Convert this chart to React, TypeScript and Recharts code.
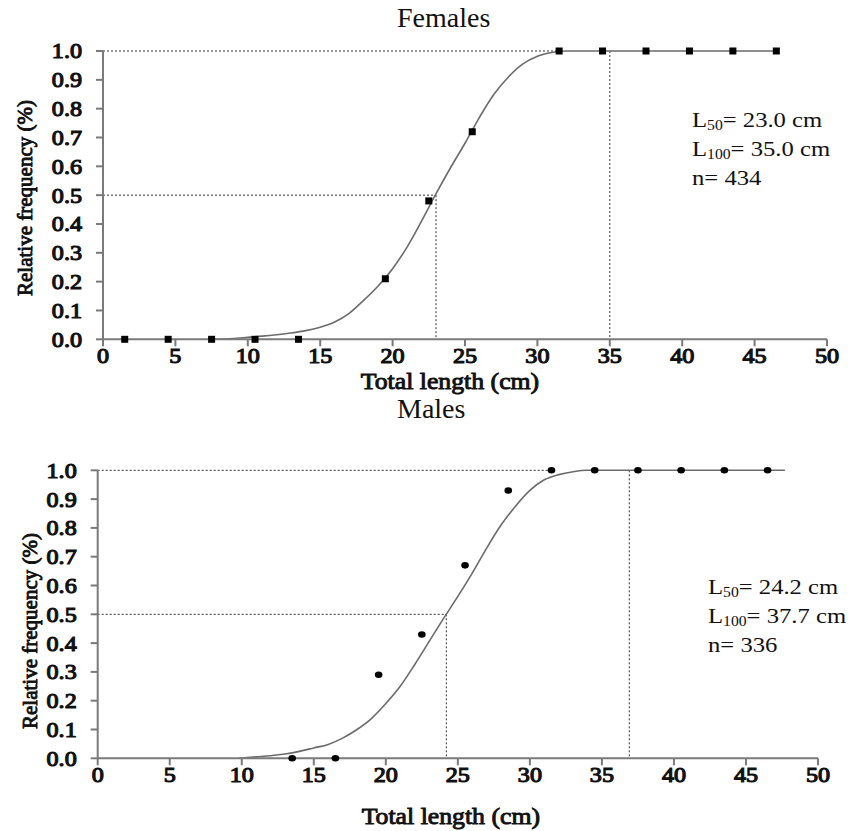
import React from 'react';
import {
  ComposedChart,
  Line,
  Scatter,
  XAxis,
  YAxis,
  ReferenceLine,
  Label,
} from 'recharts';

const X_TICKS = [0, 5, 10, 15, 20, 25, 30, 35, 40, 45, 50];
const Y_TICKS = [0, 0.1, 0.2, 0.3, 0.4, 0.5, 0.6, 0.7, 0.8, 0.9, 1.0];

// observed proportions mature per 3 cm length class
const femaleLength = [1.5, 4.5, 7.5, 10.5, 13.5, 19.5, 22.5, 25.5, 31.5, 34.5, 37.5, 40.5, 43.5, 46.5];
const femaleFreq = [0, 0, 0, 0, 0, 0.21, 0.48, 0.72, 1, 1, 1, 1, 1, 1];
const maleLength = [13.5, 16.5, 19.5, 22.5, 25.5, 28.5, 31.5, 34.5, 37.5, 40.5, 43.5, 46.5];
const maleFreq = [0, 0, 0.29, 0.43, 0.67, 0.93, 1, 1, 1, 1, 1, 1];

// fitted curves
const femaleCurveX = [7.5, 9, 10, 11, 12, 13, 14, 15, 16, 17, 18, 19, 20, 21, 22, 23, 24, 25, 26, 27, 28, 29, 30, 31, 32, 46.5];
const femaleCurveY = [0, 0.003, 0.007, 0.011, 0.016, 0.022, 0.03, 0.042, 0.06, 0.09, 0.135, 0.185, 0.245, 0.32, 0.41, 0.505, 0.595, 0.68, 0.77, 0.85, 0.91, 0.955, 0.982, 0.995, 1, 1];
const maleCurveX = [9.8, 11, 12, 13, 14, 15, 16, 17, 18, 19, 20, 21, 22, 23, 24, 25, 26, 27, 28, 29, 30, 31, 32, 33, 34, 47.7];
const maleCurveY = [0, 0.005, 0.009, 0.015, 0.024, 0.036, 0.048, 0.07, 0.1, 0.138, 0.19, 0.25, 0.325, 0.405, 0.485, 0.562, 0.643, 0.73, 0.81, 0.875, 0.93, 0.967, 0.985, 0.995, 1, 1];

// L50 / L100 guide positions (x where the dotted lines are drawn)
const femaleL50 = 23.0;
const femaleL100 = 35.0;
const maleL50 = 24.2;
const maleL100 = 36.9;
const fullUntil = 31.5;

const SERIF = "'Liberation Serif', 'Times New Roman', serif";
const AXIS_COLOR = '#7a7a7a';
const DOT_COLOR = '#333';

const zip = (xs: number[], ys: number[]) => xs.map((x, i) => ({ x, y: ys[i] }));

// bold serif is faked with a thin stroke (no bold serif face guaranteed)
const boldSvg = { fontFamily: SERIF, fontWeight: 'normal' as const, fill: '#111', stroke: '#111', strokeWidth: 1.1 };

const XTick = (props: any) => {
  const { x, y, payload } = props;
  return (
    <text transform={`translate(${x},${y}) scale(1.15,1)`} textAnchor="middle" dy="0.71em" fontSize={21} {...boldSvg}>
      {payload.value}
    </text>
  );
};

const YTick = (props: any) => {
  const { x, y, payload } = props;
  return (
    <text transform={`translate(${x},${y}) scale(1.15,1)`} textAnchor="end" dy="0.355em" fontSize={21} {...boldSvg}>
      {Number(payload.value).toFixed(1)}
    </text>
  );
};

const XTitle = (props: any) => {
  const { viewBox, shift } = props;
  const x = viewBox.x + viewBox.width / 2 + shift;
  const y = viewBox.y + viewBox.height;
  return (
    <text transform={`translate(${x},${y}) scale(1.12,1)`} textAnchor="middle" fontSize={23} {...boldSvg} strokeWidth={0.9}>
      Total length (cm)
    </text>
  );
};

const Square = (props: any) => {
  const { cx, cy } = props;
  return <rect x={cx - 3.5} y={cy - 3.5} width={7} height={7} fill="#000" />;
};

const Dot = (props: any) => {
  const { cx, cy } = props;
  return <ellipse cx={cx} cy={cy} rx={3.8} ry={3.3} fill="#000" />;
};

interface PanelProps {
  points: { x: number; y: number }[];
  curve: { x: number; y: number }[];
  l50: number;
  l100: number;
  shape: (p: any) => React.ReactElement;
  height: number;
  margin: { top: number; right: number; left: number; bottom: number };
  xAxisHeight: number;
  labelDx: number;
}

const Panel: React.FC<PanelProps> = ({ points, curve, l50, l100, shape, height, margin, xAxisHeight, labelDx }) => (
  <ComposedChart width={848} height={height} margin={margin}>
    <XAxis
      type="number"
      dataKey="x"
      domain={[0, 50]}
      ticks={X_TICKS}
      interval={0}
      height={xAxisHeight}
      stroke={AXIS_COLOR}
      strokeWidth={2}
      tickSize={7}
      tickMargin={2}
      tick={<XTick />}
    >
      <Label content={<XTitle shift={labelDx} />} />
    </XAxis>
    <YAxis
      type="number"
      dataKey="y"
      domain={[0, 1]}
      ticks={Y_TICKS}
      interval={0}
      width={60}
      stroke={AXIS_COLOR}
      strokeWidth={2}
      tickSize={7}
      tickMargin={14}
      tick={<YTick />}
    />
    <ReferenceLine segment={[{ x: 0, y: 1 }, { x: fullUntil, y: 1 }]} stroke={DOT_COLOR} strokeDasharray="2 2" strokeWidth={1} />
    <ReferenceLine segment={[{ x: 0, y: 0.5 }, { x: l50, y: 0.5 }]} stroke={DOT_COLOR} strokeDasharray="2 2" strokeWidth={1} />
    <ReferenceLine segment={[{ x: l50, y: 0.5 }, { x: l50, y: 0 }]} stroke={DOT_COLOR} strokeDasharray="2 2" strokeWidth={1} />
    <ReferenceLine segment={[{ x: l100, y: 1 }, { x: l100, y: 0 }]} stroke={DOT_COLOR} strokeDasharray="2 2" strokeWidth={1} />
    <Line
      data={curve}
      dataKey="y"
      type="monotone"
      stroke="#6b6b6b"
      strokeWidth={1.6}
      dot={false}
      activeDot={false}
      isAnimationActive={false}
    />
    <Scatter data={points} dataKey="y" fill="#000" shape={shape} isAnimationActive={false} />
  </ComposedChart>
);

const textStyle: React.CSSProperties = {
  position: 'absolute',
  fontFamily: SERIF,
  color: '#111',
  whiteSpace: 'nowrap',
};

const Stats: React.FC<{ left: number; top: number; l50: string; l100: string; n: string }> = ({ left, top, l50, l100, n }) => (
  <div style={{ ...textStyle, left, top, fontSize: 22, lineHeight: '23px', transform: 'scaleX(1.12)', transformOrigin: 'left top' }}>
    <div>
      L<sub style={{ fontSize: 14, verticalAlign: '-3px' }}>50</sub>= {l50} cm
    </div>
    <div>
      L<sub style={{ fontSize: 14, verticalAlign: '-3px' }}>100</sub>= {l100} cm
    </div>
    <div>n= {n}</div>
  </div>
);

const YLabel: React.FC<{ cx: number; cy: number }> = ({ cx, cy }) => (
  <div
    style={{
      ...textStyle,
      left: cx,
      top: cy,
      fontSize: 21,
      fontWeight: 'normal',
      WebkitTextStroke: '0.9px #111',
      transform: 'translate(-50%, -50%) rotate(-90deg)',
      lineHeight: '22px',
    }}
  >
    Relative frequency (%)
  </div>
);

export default function App() {
  return (
    <div style={{ position: 'absolute', left: 0, top: 0, width: 848, height: 831, background: '#fff', overflow: 'hidden' }}>
      <div style={{ position: 'absolute', left: 0, top: 0 }}>
        <Panel
          points={zip(femaleLength, femaleFreq)}
          curve={zip(femaleCurveX, femaleCurveY)}
          l50={femaleL50}
          l100={femaleL100}
          shape={Square}
          height={400}
          margin={{ top: 51, right: 21, left: 43, bottom: 10.7 }}
          xAxisHeight={50}
          labelDx={-15}
        />
      </div>
      <div style={{ position: 'absolute', left: 0, top: 420 }}>
        <Panel
          points={zip(maleLength, maleFreq)}
          curve={zip(maleCurveX, maleCurveY)}
          l50={maleL50}
          l100={maleL100}
          shape={Dot}
          height={411}
          margin={{ top: 50.3, right: 30, left: 37.7, bottom: 6.7 }}
          xAxisHeight={66}
          labelDx={-7}
        />
      </div>

      <div style={{ ...textStyle, left: 397, top: 2, fontSize: 28, lineHeight: '32px' }}>Females</div>
      <div style={{ ...textStyle, left: 397, top: 393, fontSize: 28, lineHeight: '32px' }}>Males</div>

      <YLabel cx={25} cy={198} />
      <YLabel cx={30} cy={631} />

      <Stats left={692} top={108} l50="23.0" l100="35.0" n="434" />
      <Stats left={708} top={575} l50="24.2" l100="37.7" n="336" />
    </div>
  );
}
